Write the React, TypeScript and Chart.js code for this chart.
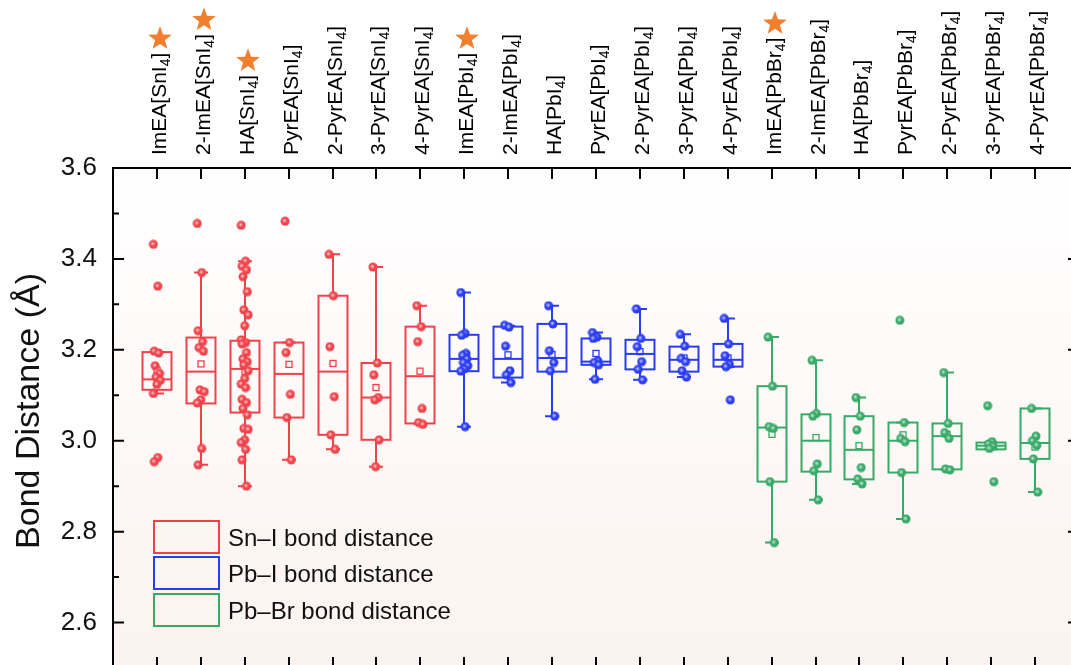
import React, { useEffect, useRef } from "react";
import { Chart, registerables } from "chart.js";

Chart.register(...registerables);

// ---------------- DATA ----------------
const categories = [
  "ImEA[SnI_4]", "2-ImEA[SnI_4]", "HA[SnI_4]", "PyrEA[SnI_4]", "2-PyrEA[SnI_4]", "3-PyrEA[SnI_4]", "4-PyrEA[SnI_4]",
  "ImEA[PbI_4]", "2-ImEA[PbI_4]", "HA[PbI_4]", "PyrEA[PbI_4]", "2-PyrEA[PbI_4]", "3-PyrEA[PbI_4]", "4-PyrEA[PbI_4]",
  "ImEA[PbBr_4]", "2-ImEA[PbBr_4]", "HA[PbBr_4]", "PyrEA[PbBr_4]", "2-PyrEA[PbBr_4]", "3-PyrEA[PbBr_4]", "4-PyrEA[PbBr_4]",
];
const groupOf = [0, 0, 0, 0, 0, 0, 0, 1, 1, 1, 1, 1, 1, 1, 2, 2, 2, 2, 2, 2, 2];
const starred = [0, 1, 2, 7, 14];
const seriesNames = ["Sn\u2013I bond distance", "Pb\u2013I bond distance", "Pb\u2013Br bond distance"];
const seriesColors = ["#f0424a", "#2a3cf2", "#38aa68"];

// individual bond distances (Å), one list per compound
const pointsSnI = [
  [3.432, 3.340, 3.197, 3.193, 3.165, 3.148, 3.140, 3.133, 3.124, 3.104, 2.963, 2.954],
  [3.478, 3.370, 3.242, 3.218, 3.205, 3.197, 3.112, 3.108, 3.090, 3.083, 2.983, 2.947],
  [3.474, 3.395, 3.384, 3.376, 3.361, 3.328, 3.288, 3.277, 3.253, 3.222, 3.216, 3.213, 3.194, 3.180, 3.174, 3.167,
    3.154, 3.137, 3.125, 3.117, 3.091, 3.084, 3.071, 3.057, 3.027, 3.025, 3.002, 2.996, 2.981, 2.958, 2.900],
  [3.483, 3.216, 3.194, 3.102, 3.051, 2.958],
  [3.410, 3.319, 3.207, 3.097, 3.013, 2.981],
  [3.382, 3.171, 3.145, 3.095, 3.090, 3.002, 2.943],
  [3.297, 3.251, 3.218, 3.071, 3.040, 3.036],
];
const pointsPbI = [
  [3.326, 3.236, 3.232, 3.192, 3.188, 3.180, 3.172, 3.165, 3.158, 3.153, 3.031],
  [3.254, 3.250, 3.208, 3.154, 3.145, 3.128],
  [3.297, 3.257, 3.198, 3.172, 3.154, 3.054],
  [3.238, 3.228, 3.225, 3.176, 3.172, 3.167, 3.135],
  [3.290, 3.225, 3.207, 3.174, 3.157, 3.134],
  [3.234, 3.208, 3.181, 3.174, 3.154, 3.140],
  [3.269, 3.213, 3.187, 3.168, 3.163, 3.090],
];
const pointsPbBr = [
  [3.228, 3.120, 3.031, 3.027, 2.910, 2.776],
  [3.177, 3.060, 3.054, 2.949, 2.934, 2.870],
  [3.095, 3.054, 3.024, 2.941, 2.916, 2.905],
  [3.265, 3.040, 3.005, 2.998, 2.930, 2.828],
  [3.150, 3.038, 3.018, 3.005, 2.938, 2.936],
  [3.077, 2.998, 2.993, 2.988, 2.983, 2.910],
  [3.071, 3.010, 3.000, 2.990, 2.960, 2.887],
];

// box statistics
const q1 = [3.112, 3.082, 3.062, 3.051, 3.013, 3.002, 3.038, 3.153, 3.139, 3.152, 3.167, 3.157, 3.152, 3.163, 2.910, 2.932, 2.915, 2.930, 2.937, 2.981, 2.960];
const medians = [3.135, 3.152, 3.158, 3.147, 3.152, 3.095, 3.142, 3.180, 3.180, 3.182, 3.174, 3.191, 3.178, 3.178, 3.029, 3.000, 2.980, 3.000, 3.010, 2.989, 2.995];
const q3 = [3.195, 3.227, 3.220, 3.216, 3.319, 3.171, 3.251, 3.233, 3.251, 3.257, 3.225, 3.222, 3.207, 3.213, 3.120, 3.058, 3.054, 3.040, 3.038, 2.996, 3.071];
const whiskerLow = [3.104, 2.947, 2.900, 2.958, 2.981, 2.943, 3.038, 3.031, 3.128, 3.054, 3.135, 3.134, 3.140, 3.163, 2.776, 2.870, 2.905, 2.828, 2.937, 2.981, 2.887];
const whiskerHigh = [3.195, 3.370, 3.395, 3.216, 3.410, 3.382, 3.297, 3.326, 3.253, 3.297, 3.238, 3.290, 3.234, 3.269, 3.228, 3.177, 3.095, 3.040, 3.150, 2.996, 3.071];
const means = [3.156, 3.169, 3.152, 3.168, 3.170, 3.117, 3.153, 3.185, 3.189, 3.190, 3.192, 3.196, 3.182, 3.182, 3.014, 3.007, 2.989, 3.013, 3.014, 2.991, 2.986];

const yMajorTicks = [2.6, 2.8, 3.0, 3.2, 3.4, 3.6];
const yMinorTicks = [2.7, 2.9, 3.1, 3.3, 3.5];
const yTitle = "Bond Distance (\u00c5)";

// ---------------- DRAWING ----------------
const FONT = "'Liberation Sans', Arial, Helvetica, sans-serif";
const W = 1100;
const H = 690;

function jitter(k: number) {
  return (((k * 5) % 9) - 4) * 0.02;
}

function makeBall(color: string) {
  const c = document.createElement("canvas");
  c.width = 10;
  c.height = 10;
  const g = c.getContext("2d")!;
  g.beginPath();
  g.arc(5, 5, 4.5, 0, Math.PI * 2);
  g.fillStyle = color;
  g.fill();
  const rg = g.createRadialGradient(4.4, 4.4, 0, 4.4, 4.4, 2.6);
  rg.addColorStop(0, "rgba(255,255,255,0.75)");
  rg.addColorStop(1, "rgba(255,255,255,0)");
  g.fillStyle = rg;
  g.beginPath();
  g.arc(5, 5, 4.5, 0, Math.PI * 2);
  g.fill();
  return c;
}

function drawStar(ctx: CanvasRenderingContext2D, cx: number, cy: number, R: number, r: number, color: string) {
  ctx.beginPath();
  for (let i = 0; i < 10; i++) {
    const rad = i % 2 === 0 ? R : r;
    const a = -Math.PI / 2 + (i * Math.PI) / 5;
    const x = cx + rad * Math.cos(a);
    const y = cy + rad * Math.sin(a);
    if (i === 0) ctx.moveTo(x, y);
    else ctx.lineTo(x, y);
  }
  ctx.closePath();
  ctx.fillStyle = color;
  ctx.fill();
}

const boxPlugin = {
  id: "boxPlugin",
  beforeDatasetsDraw(chart: any) {
    const { ctx, chartArea } = chart;
    const xs = chart.scales.x;
    const ys = chart.scales.y;
    // plot background gradient
    ctx.save();
    const grad = ctx.createLinearGradient(0, chartArea.top, 0, chartArea.bottom);
    grad.addColorStop(0, "#ffffff");
    grad.addColorStop(1, "#fbf3ef");
    ctx.fillStyle = grad;
    ctx.fillRect(chartArea.left, chartArea.top, chartArea.right - chartArea.left, chartArea.bottom - chartArea.top);

    const unit = xs.getPixelForValue(1) - xs.getPixelForValue(0);
    const halfBox = unit * 0.33;
    const halfCap = unit * 0.16;
    for (let i = 0; i < categories.length; i++) {
      const color = seriesColors[groupOf[i]];
      const cx = Math.round(xs.getPixelForValue(i));
      const yq1 = ys.getPixelForValue(q1[i]);
      const yq3 = ys.getPixelForValue(q3[i]);
      const ymed = ys.getPixelForValue(medians[i]);
      const ylo = ys.getPixelForValue(whiskerLow[i]);
      const yhi = ys.getPixelForValue(whiskerHigh[i]);
      const ymean = ys.getPixelForValue(means[i]);
      ctx.strokeStyle = color;
      ctx.lineWidth = 2;
      // whiskers
      ctx.beginPath();
      ctx.moveTo(cx, yq3);
      ctx.lineTo(cx, yhi);
      ctx.moveTo(cx, yq1);
      ctx.lineTo(cx, ylo);
      ctx.moveTo(cx - halfCap, yhi);
      ctx.lineTo(cx + halfCap, yhi);
      ctx.moveTo(cx - halfCap, ylo);
      ctx.lineTo(cx + halfCap, ylo);
      ctx.stroke();
      // box
      ctx.strokeRect(cx - halfBox, yq3, halfBox * 2, yq1 - yq3);
      // median
      ctx.beginPath();
      ctx.moveTo(cx - halfBox, ymed);
      ctx.lineTo(cx + halfBox, ymed);
      ctx.stroke();
      // mean
      ctx.lineWidth = 1.3;
      ctx.strokeRect(cx - 3, ymean - 3, 6, 6);
    }
    ctx.restore();
  },
  afterDatasetsDraw(chart: any) {
    const { ctx, chartArea } = chart;
    const xs = chart.scales.x;
    const ys = chart.scales.y;
    const { left, right, top, bottom } = chartArea;
    ctx.save();
    // frame
    ctx.strokeStyle = "#000";
    ctx.lineWidth = 2;
    ctx.strokeRect(left, top, right - left, bottom - top);
    // ticks
    ctx.beginPath();
    for (let i = 0; i < categories.length; i++) {
      const x = Math.round(xs.getPixelForValue(i));
      ctx.moveTo(x, top);
      ctx.lineTo(x, top + 11);
      ctx.moveTo(x, bottom);
      ctx.lineTo(x, bottom - 11);
    }
    for (const v of yMajorTicks) {
      const y = ys.getPixelForValue(v);
      ctx.moveTo(left, y);
      ctx.lineTo(left + 11, y);
      ctx.moveTo(right, y);
      ctx.lineTo(right - 11, y);
    }
    for (const v of yMinorTicks) {
      const y = ys.getPixelForValue(v);
      ctx.moveTo(left, y);
      ctx.lineTo(left + 6, y);
      ctx.moveTo(right, y);
      ctx.lineTo(right - 6, y);
    }
    ctx.stroke();

    // y tick labels
    ctx.fillStyle = "#111";
    ctx.font = `26px ${FONT}`;
    ctx.textAlign = "right";
    ctx.textBaseline = "alphabetic";
    for (const v of yMajorTicks) {
      const y = ys.getPixelForValue(v);
      ctx.fillText(v.toFixed(1), left - 16, y + 7);
    }

    // y title
    ctx.save();
    ctx.translate(27, (top + bottom) / 2 - 7);
    ctx.rotate(-Math.PI / 2);
    ctx.font = `34px ${FONT}`;
    ctx.textAlign = "center";
    ctx.textBaseline = "alphabetic";
    ctx.fillText(yTitle, 0, 12);
    ctx.restore();

    // category labels (top), with subscripts
    for (let i = 0; i < categories.length; i++) {
      const x = Math.round(xs.getPixelForValue(i));
      const parts = categories[i].split("_");
      ctx.save();
      ctx.translate(x, top - 13);
      ctx.rotate(-Math.PI / 2);
      ctx.textAlign = "left";
      ctx.textBaseline = "alphabetic";
      ctx.fillStyle = "#000";
      let cursor = 0;
      ctx.font = `21px ${FONT}`;
      ctx.fillText(parts[0], cursor, 9);
      cursor += ctx.measureText(parts[0]).width;
      if (parts.length > 1) {
        const sub = parts[1].charAt(0);
        const rest = parts[1].slice(1);
        ctx.font = `14px ${FONT}`;
        ctx.fillText(sub, cursor, 13);
        cursor += ctx.measureText(sub).width;
        ctx.font = `21px ${FONT}`;
        ctx.fillText(rest, cursor, 9);
        cursor += ctx.measureText(rest).width;
      }
      ctx.restore();
      if (starred.includes(i)) {
        drawStar(ctx, x + 3, top - 13 - cursor - 14, 12.5, 5.2, "#f07f2e");
      }
    }

    // legend
    const legendTops = [521, 557, 594];
    ctx.font = `24px ${FONT}`;
    ctx.textAlign = "left";
    ctx.textBaseline = "alphabetic";
    for (let g = 0; g < seriesNames.length; g++) {
      const ly = legendTops[g];
      ctx.strokeStyle = seriesColors[g];
      ctx.lineWidth = 2;
      ctx.strokeRect(154, ly, 65, 32);
      ctx.fillStyle = "#111";
      ctx.fillText(seriesNames[g], 228, ly + 16 + 8.5);
    }
    ctx.restore();
  },
};

export default function App() {
  const canvasRef = useRef<HTMLCanvasElement | null>(null);

  useEffect(() => {
    const canvas = canvasRef.current;
    if (!canvas) return;
    const groups = [pointsSnI, pointsPbI, pointsPbBr];
    const datasets = groups.map((lists, g) => {
      const data: { x: number; y: number }[] = [];
      const offset = g === 0 ? 0 : g === 1 ? 7 : 14;
      lists.forEach((vals, j) => {
        vals.forEach((v, k) => {
          data.push({ x: offset + j + jitter(k), y: v });
        });
      });
      return {
        label: seriesNames[g],
        data,
        pointStyle: makeBall(seriesColors[g]),
        pointRadius: 4.5,
        backgroundColor: seriesColors[g],
        borderColor: seriesColors[g],
        showLine: false,
      };
    });

    const chart = new Chart(canvas, {
      type: "scatter",
      data: { datasets: datasets as any },
      options: {
        responsive: false,
        animation: false,
        devicePixelRatio: 1,
        layout: { padding: { left: 113, top: 168, right: W - 1079, bottom: H - 668 } },
        scales: {
          x: { type: "linear", min: -1, max: 21, display: false },
          y: { type: "linear", min: 2.5, max: 3.6, display: false },
        },
        plugins: {
          legend: { display: false },
          tooltip: { enabled: false },
          title: { display: false },
        },
      },
      plugins: [boxPlugin],
    });
    return () => chart.destroy();
  }, []);

  return (
    <div
      style={{
        position: "fixed",
        left: 0,
        top: 0,
        width: 1071,
        height: 665,
        overflow: "hidden",
        background: "#fff",
      }}
    >
      <canvas ref={canvasRef} width={W} height={H} style={{ width: W, height: H, display: "block" }} />
    </div>
  );
}
